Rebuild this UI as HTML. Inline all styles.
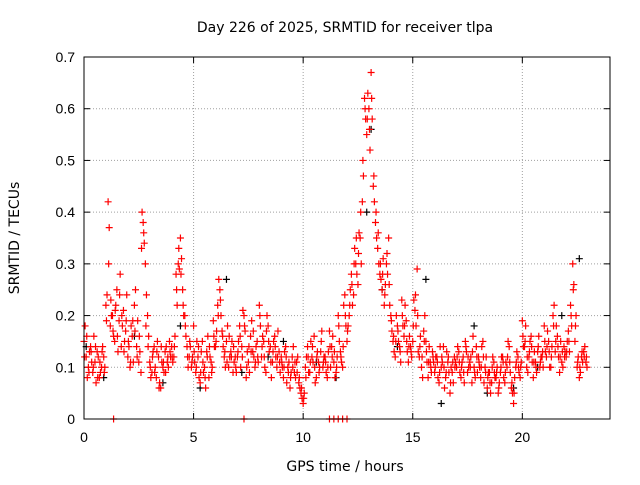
<!DOCTYPE html>
<html><head><meta charset="utf-8"><style>
body{margin:0;background:#fff;font-family:"Liberation Sans",sans-serif}
svg text{font-family:"Liberation Sans",sans-serif;font-size:14px;fill:#000}
svg text.dv{font-family:"DejaVu Sans","Liberation Sans",sans-serif;font-size:14px}
</style></head><body>
<svg id="c" width="640" height="480"></svg>
<script>
const xTicks=[0,5,10,15,20];
const yTicks=[0,0.1,0.2,0.3,0.4,0.5,0.6,0.7];
const yLabels=["0","0.1","0.2","0.3","0.4","0.5","0.6","0.7"];
const redA=[15,12,10,14,9,11,13,8,10,12, 22,42,18,20,15,25,19,14,21,17, 12,10,16,22,14,11,9,38,30,20, 11,9,14,8,12,6,10,13,11,15, 14,12,28,30,35,25,20,14,12,10, 18,9,12,7,15,10,13,8,11,19, 14,22,25,17,12,15,10,13,9,12, 12,18,14,20,8,11,16,13,10,15, 22,12,15,9,18,14,11,16,10,13, 12,8,14,10,6,12,9,11,7,5, 3,10,14,9,12,16,8,11,13,10, 12,8,17,14,11,9,20,13,10,24, 15,20,28,24,30,26,35,42,62,55, 60,67,45,38,33,28,25,22,30,35, 20,15,12,18,14,23,16,19,11,14, 15,21,29,12,10,17,15,8,11,13, 9,12,7,10,14,8,11,5,9,12, 10,13,8,12,15,9,11,7,10,14, 12,8,15,10,6,9,7,11,8,5, 9,12,7,10,14,6,3,10,12,8, 19,14,10,12,16,8,11,13,10,12, 18,12,15,10,20,13,16,9,11,14, 12,17,22,30,15,10,8,12,13,11];
const redB=[18,8,13,11,16,7,12,9,14,10, 24,37,20,16,22,13,28,18,15,24, 14,18,11,25,19,13,40,34,24,16, 8,13,10,15,7,11,9,14,10,12, 11,16,22,29,31,20,16,10,14,12, 11,15,8,13,9,6,16,12,10,14, 17,27,20,14,10,18,12,15,11,9, 15,10,21,17,13,9,19,12,14,11, 18,16,10,20,13,8,15,12,17,9, 10,13,7,11,9,14,8,12,6,4, 5,12,9,15,11,7,13,10,17,12, 9,13,10,16,8,12,15,11,22,18, 18,25,22,33,28,36,30,47,58,63, 52,58,42,35,30,27,31,26,28,22, 17,13,20,15,11,18,22,13,16,12, 23,18,13,16,8,20,11,14,9,11, 12,8,14,11,6,13,9,10,7,11, 14,9,11,7,13,10,12,16,8,9, 10,14,7,12,9,5,12,8,10,7, 12,8,11,15,9,5,8,13,9,11, 14,18,9,15,11,13,9,16,12,10, 13,17,10,14,22,18,12,15,10,13, 15,13,18,26,20,12,9,11,14,10];
const redC=[12,16,9,13,10,14,8,11,13,9, 19,30,23,17,21,16,24,20,13,19, 15,11,19,17,12,16,33,36,18,14, 10,12,9,13,6,14,11,9,12,13, 12,14,25,33,28,22,18,12,15,11, 13,10,14,9,11,8,12,14,9,16, 15,20,23,16,13,11,16,12,14,10, 13,16,12,18,10,14,13,17,11,12, 20,14,12,17,15,11,13,14,12,11, 11,10,12,9,8,10,11,9,8,6, 4,8,12,11,14,10,12,9,15,11, 11,10,14,12,13,10,18,12,14,20, 17,22,26,30,35,32,40,50,60,58, 56,62,47,40,36,30,28,24,32,26, 19,16,15,17,13,20,18,15,14,13, 18,24,20,14,12,15,13,11,10,12, 10,11,9,12,10,9,12,7,11,10, 12,11,10,9,14,12,10,13,9,12, 11,10,12,9,8,7,10,9,9,6, 10,11,9,12,11,7,5,11,10,10, 16,15,12,13,14,11,10,14,11,13, 15,14,13,12,18,15,14,12,13,12, 13,15,20,25,18,11,10,13,12,12];
const blackT=[0.1,0.9,2.3,3.6,4.4,5.3,6.5,7.2,8.4,9.1,10.6,11.5,12.9,13.1,13.6,14.3,15.6,16.3,17.8,18.4,19.6,20.7,21.8,22.6];
const blackV=[0.14,0.08,0.16,0.07,0.18,0.06,0.27,0.09,0.12,0.15,0.11,0.08,0.40,0.56,0.25,0.14,0.27,0.03,0.18,0.05,0.06,0.10,0.20,0.31];
const zeroT=[1.35,7.3,11.2,11.4,11.6,11.8,12.0];
const X0=84,X1=610,Y0=419,Y1=57;
const sx=t=>X0+(X1-X0)*t/24, sy=v=>Y0-(Y0-Y1)*v/0.7;
const svg=document.getElementById('c'),NS='http://www.w3.org/2000/svg';
function mk(tag,a,p){const e=document.createElementNS(NS,tag);for(const k in a)e.setAttribute(k,a[k]);(p||svg).appendChild(e);return e;}
const grid=mk('g',{});


yTicks.forEach((v,i)=>{
 if(i>0&&i<yTicks.length-1)mk('line',{x1:X0,x2:X1,y1:sy(v),y2:sy(v),stroke:'#a0a0a0','stroke-dasharray':'1,2'},grid);
 mk('line',{x1:X0,x2:X0+6,y1:sy(v),y2:sy(v),stroke:'#000'});mk('line',{x1:X1-6,x2:X1,y1:sy(v),y2:sy(v),stroke:'#000'});
 const t=mk('text',{x:X0-9,y:sy(v)+5,'text-anchor':'end'});t.textContent=yLabels[i];
 
 
});
xTicks.forEach(v=>{
 if(v>0)mk('line',{x1:sx(v),x2:sx(v),y1:Y1,y2:Y0,stroke:'#a0a0a0','stroke-dasharray':'1,2'},grid);
 mk('line',{x1:sx(v),x2:sx(v),y1:Y0,y2:Y0-6,stroke:'#000'});mk('line',{x1:sx(v),x2:sx(v),y1:Y1,y2:Y1+6,stroke:'#000'});
 const t=mk('text',{x:sx(v),y:Y0+23,'text-anchor':'middle'});t.textContent=v;
 
 
});
function plus(t,v,col,g){mk('path',{d:`M${sx(t)-3.5},${sy(v)}h7M${sx(t)},${sy(v)-3.5}v7`,stroke:col,'stroke-width':1.2},g);}
const gb=mk('g',{});


blackT.forEach((t,i)=>plus(t,blackV[i],'#000',gb));
const gr=mk('g',{});


redA.forEach((v,i)=>plus(i*0.1,v/100,'#f00',gr));
redB.forEach((v,i)=>plus(i*0.1+0.05,v/100,'#f00',gr));
redC.forEach((v,i)=>plus(i*0.1+0.025,v/100,'#f00',gr));
zeroT.forEach(t=>plus(t,0,'#f00',gr));
const fr=mk('rect',{x:X0,y:Y1,width:X1-X0,height:Y0-Y1,fill:'none',stroke:'#000'});


const ti=mk('text',{x:345,y:32,'text-anchor':'middle','class':'dv'});ti.textContent='Day 226 of 2025, SRMTID for receiver tlpa';


const xl=mk('text',{x:345,y:471,'text-anchor':'middle','class':'dv'});xl.textContent='GPS time / hours';


const yl=mk('text',{x:19,y:238,'text-anchor':'middle','class':'dv',transform:'rotate(-90 19 238)'});yl.textContent='SRMTID / TECUs';


</script>
</body></html>
